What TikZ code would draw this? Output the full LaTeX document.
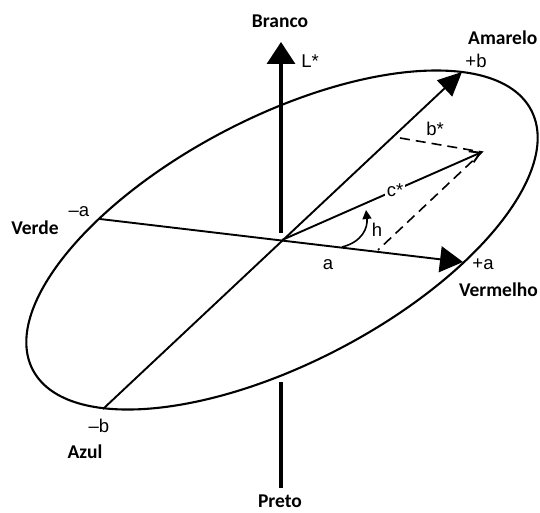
\documentclass[tikz,border=0pt]{standalone}
\usepackage{fontspec}
\setmainfont{Liberation Sans}
\newfontfamily\namefont{Carlito}
\usetikzlibrary{arrows.meta}
\begin{document}
\begin{tikzpicture}[x=1pt,y=1pt,
  axisline/.style={line width=1.9pt},
  lettr/.style={font=\fontsize{18.5}{21}\selectfont, inner sep=1pt},
  colname/.style={font=\namefont\bfseries\fontsize{19.5}{22}\selectfont, inner sep=1pt},
  dashline/.style={line width=1.6pt, dash pattern=on 10pt off 6pt},
]
\useasboundingbox (0,0) rectangle (540,512);
\coordinate (C) at (282,272);
\coordinate (Ls) at (281,279);
\coordinate (Lt) at (281,470);
\coordinate (Lb1) at (281,130);
\coordinate (Lb2) at (281,24);
\coordinate (pb) at (462,440);
\coordinate (mb) at (103,103);
\coordinate (pa) at (463,250);
\coordinate (ma) at (100,293);
\coordinate (cs) at (482,360);
\coordinate (bd) at (400,374);
\coordinate (ad) at (378,262);
\coordinate (h1) at (342,265);
\coordinate (h2) at (366,302);

% ellipse (a*b* plane)
\draw[line width=2.1pt, rotate around={27.5:(C)}] (C) ellipse [x radius=281pt, y radius=123pt];

% L axis
\draw[line width=3.4pt, -{Triangle[length=22pt,width=28pt]}] (Ls) -- (Lt);
\draw[line width=3.4pt] (Lb1) -- (Lb2);

% b and a axes
\draw[axisline, -{Triangle[length=24pt,width=22pt]}] (mb) -- (pb);
\draw[axisline, -{Triangle[length=23pt,width=26pt]}] (ma) -- (pa);

% c* vector
\draw[axisline, -{Straight Barb[length=10pt,width=12pt]}] (C) -- node[pos=0.565, fill=white, lettr, inner sep=2pt] (cl) {c*} (cs);

% dashed projections
\draw[dashline] (bd) -- (cs) -- (ad);

% hue angle
\draw[line width=1.6pt, -{Triangle[length=9pt,width=9pt]}] (h1) .. controls (362,270) and (368,284) .. (h2);

% letter labels
\node[lettr] (lL) at (310,451) {L*};
\node[lettr] (lpb) at (476,451) {+b};
\node[lettr] (lbs) at (435,383) {b*};
\node[lettr] (lh) at (377,282) {h};
\node[lettr] (la) at (328,247) {a};
\node[lettr] (lpa) at (483,248) {+a};
\node[lettr] (lma) at (79,300) {–a};
\node[lettr] (lmb) at (99,86) {–b};

% colour names
\node[colname] (nB) at (280,491) {Branco};
\node[colname, anchor=west] (nAm) at (467,474) {Amarelo};
\node[colname, anchor=east] (nVm) at (539,222) {Vermelho};
\node[colname] (nVd) at (35,284) {Verde};
\node[colname] (nAz) at (85,60) {Azul};
\node[colname] (nP) at (280,11) {Preto};
\end{tikzpicture}
\end{document}
